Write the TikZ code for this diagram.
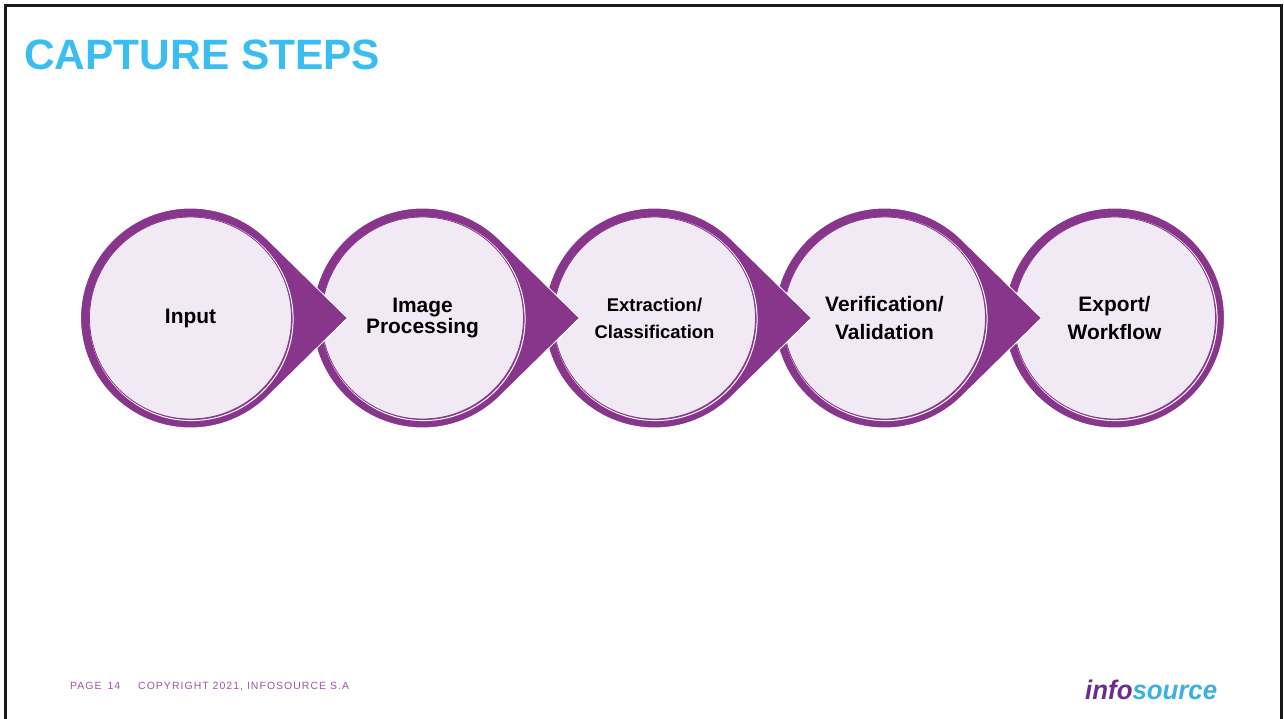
\documentclass[tikz,border=0pt]{standalone}
\usepackage{fontspec}
\usepackage{graphicx}
\setmainfont{Liberation Sans}
\newfontfamily\footfont[LetterSpace=10]{Liberation Sans}
\usetikzlibrary{calc}
\definecolor{ringpurple}{RGB}{136,54,140}
\definecolor{disklav}{RGB}{241,233,243}
\definecolor{titleblue}{RGB}{58,190,241}
\definecolor{footpurple}{RGB}{163,82,168}
\definecolor{logopurple}{RGB}{105,45,145}
\definecolor{logoblue}{RGB}{60,176,230}
\definecolor{framecol}{RGB}{25,25,25}
\tikzset{
  teardrop/.style={fill=ringpurple, draw=white, line width=1bp},
  whitering/.style={draw=white, line width=1bp},
  stepdisk/.style={circle, minimum size=202bp, inner sep=0pt, fill=disklav,
    draw=ringpurple, line width=0.8bp, align=center, text=black},
  bigtext/.style={font=\fontsize{21}{28}\selectfont\bfseries},
  tighttext/.style={font=\fontsize{21}{22}\selectfont\bfseries},
  smalltext/.style={font=\fontsize{18.5}{27}\selectfont\bfseries},
}
% #1 name, #2 x centre, #3 text style, #4 text
\newcommand{\capstep}[4]{%
  \fill[teardrop] ($(#2,318)+(157,0)$) -- ($(#2,318)+(45.6:110)$)
    arc[start angle=45.6, end angle=314.4, radius=110] -- cycle;
  \draw[whitering] ($(#2,318)+(1,1)$) circle[radius=101.6];
  \node[stepdisk, #3] (#1) at (#2,318) {#4};
}
\newcommand{\capstepend}[4]{%
  \fill[teardrop] (#2,318) circle[radius=110];
  \draw[whitering] ($(#2,318)+(1,1)$) circle[radius=101.6];
  \node[stepdisk, #3] (#1) at (#2,318) {#4};
}
\begin{document}
\begin{tikzpicture}[x=1bp,y=-1bp]
\useasboundingbox (0,0) rectangle (1284,719);
\fill[white] (0,0) rectangle (1284,719);
\draw[framecol, line width=2.5bp] (5.3,719) -- (5.3,5.3) -- (1281.6,5.3) -- (1281.6,719);

\node[anchor=base west, inner sep=0pt, text=titleblue,
  font=\fontsize{42.6}{43}\selectfont\bfseries] (title) at (24,70) {CAPTURE STEPS};

\capstepend{s5}{1114.5}{bigtext}{Export/\\Workflow}
\capstep{s4}{884.5}{bigtext}{Verification/\\Validation}
\capstep{s3}{654.5}{smalltext}{Extraction/\\Classification}
\capstep{s2}{422.5}{tighttext}{Image\\Processing}
\capstep{s1}{190.5}{bigtext}{Input}

\node[anchor=base west, inner sep=0pt, text=footpurple,
  font=\footfont\fontsize{10.5}{12}\selectfont] (page) at (70,689) {PAGE\hspace{6bp}14};
\node[anchor=base west, inner sep=0pt, text=footpurple,
  font=\footfont\fontsize{10.5}{12}\selectfont] (copy) at (138,689) {COPYRIGHT 2021, INFOSOURCE S.A};

\node[anchor=base west, inner sep=0pt,
  font=\fontsize{27}{27}\selectfont\bfseries\itshape] (logo) at (1085,699)
  {\scalebox{0.96}[1]{\textcolor{logopurple}{info}\textcolor{logoblue}{source}}};
\end{tikzpicture}
\end{document}
